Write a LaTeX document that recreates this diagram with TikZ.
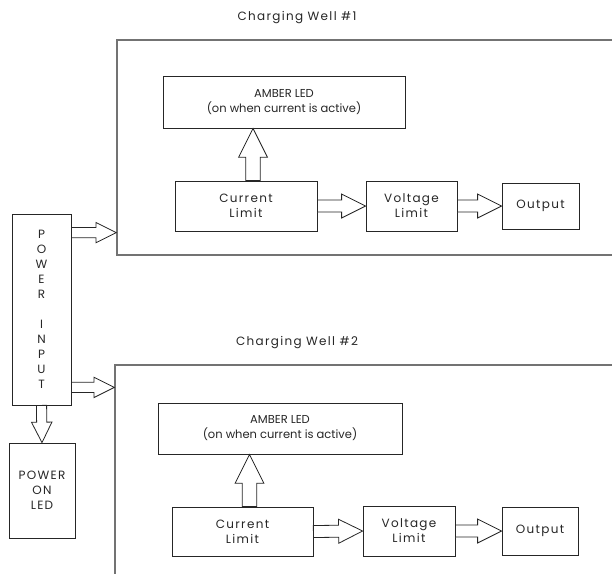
\documentclass[tikz,border=0pt]{standalone}
\usepackage{fontspec}
\setmainfont{Poppins}[LetterSpace=11]
\usetikzlibrary{calc}

% hollow block arrow between two points, #1 scales its size
\newcommand{\fatarrow}[3][1]{%
  \draw[fat] let \p1=(#2), \p2=(#3), \n1={atan2(\y2-\y1,\x2-\x1)},
      \n2={6pt*#1}, \n3={12pt*#1}, \n4={-24pt*#1} in
    ($(\p1)+(\n1+90:\n2)$) -- ($(\p2)+(\n1:\n4)+(\n1+90:\n2)$)
    -- ($(\p2)+(\n1:\n4)+(\n1+90:\n3)$) -- (\p2)
    -- ($(\p2)+(\n1:\n4)+(\n1-90:\n3)$) -- ($(\p2)+(\n1:\n4)+(\n1-90:\n2)$)
    -- ($(\p1)+(\n1-90:\n2)$) -- cycle;}

\begin{document}
\begin{tikzpicture}[x=1pt, y=-1pt, font=\fontsize{12}{15}\selectfont, text=black!85,
        box/.style = {draw=black!85, line width=0.8pt, inner sep=0pt, align=center},
        well/.style = {draw=black!55, line width=1.4pt, inner sep=0pt},
        fat/.style = {draw=black!85, line width=0.8pt, fill=white, line join=miter},
        tight/.style = {font=\fontsize{11.5}{15}\selectfont\addfontfeatures{LetterSpace=0}}]
    \useasboundingbox (0,0) rectangle (612,573);

    \node[well, minimum width=513pt, minimum height=215pt] (well_1) at (373.5,147.5) {};
    \node[well, minimum width=515pt, minimum height=235pt] (well_2) at (372.5,482.5) {};
    \node (title_1) at (297,18) {Charging Well \#1};
    \node (title_2) at (297,343) {Charging Well \#2};

    \node[box, minimum width=59pt, minimum height=191pt] (pwr) at (41.5,309.5) {P\\O\\W\\E\\R\\[15pt]I\\N\\P\\U\\T};
    \node[box, minimum width=66pt, minimum height=95pt] (led) at (42,490.5) {POWER\\ON\\LED};

    % well 1
    \node[box, tight, minimum width=242pt, minimum height=52pt] (amber_1) at (284,102) {AMBER LED\\(on when current is active)};
    \node[box, minimum width=142pt, minimum height=50pt] (cl_1) at (246,206) {Current\\Limit};
    \node[box, minimum width=91pt, minimum height=50pt] (vl_1) at (411.5,206) {Voltage\\Limit};
    \node[box, minimum width=77pt, minimum height=46pt] (out_1) at (540.5,206) {Output};

    % well 2
    \node[box, tight, minimum width=244pt, minimum height=51pt] (amber_2) at (280,428.5) {AMBER LED\\(on when current is active)};
    \node[box, minimum width=141pt, minimum height=49pt] (cl_2) at (242.5,531.5) {Current\\Limit};
    \node[box, minimum width=92pt, minimum height=50pt] (vl_2) at (409,531) {Voltage\\Limit};
    \node[box, minimum width=76pt, minimum height=48pt] (out_2) at (540,531) {Output};

    \coordinate (p_1) at ([yshift=-19pt]pwr.north east);
    \coordinate (p_2) at ([yshift=18pt]pwr.south east);
    \coordinate (up_1) at ([xshift=7pt]cl_1.north);
    \coordinate (up_2) at ([xshift=7pt]cl_2.north);

    \fatarrow[0.85]{p_1}{p_1 -| well_1.west}
    \fatarrow[0.85]{p_2}{p_2 -| well_2.west}
    \fatarrow[0.85]{pwr.south}{led.north}
    \fatarrow[1.2]{up_1}{up_1 |- amber_1.south}
    \fatarrow{cl_1.east}{vl_1.west}
    \fatarrow{vl_1.east}{out_1.west}
    \fatarrow[1.2]{up_2}{up_2 |- amber_2.south}
    \fatarrow{cl_2.east}{vl_2.west}
    \fatarrow{vl_2.east}{out_2.west}
\end{tikzpicture}
\end{document}
